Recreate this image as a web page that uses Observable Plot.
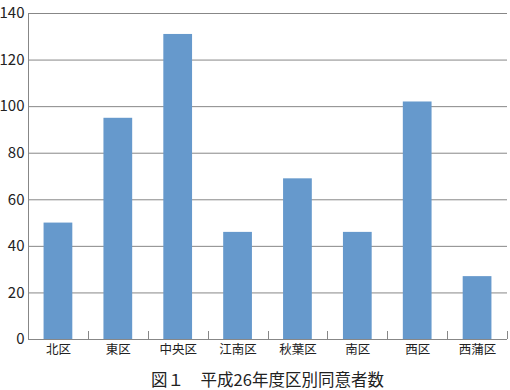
<!DOCTYPE html>
<html><head><meta charset="utf-8">
<script src="https://cdn.jsdelivr.net/npm/d3@7"></script>
<script src="https://cdn.jsdelivr.net/npm/@observablehq/plot@0.6"></script>
<style>
html,body{margin:0;background:#fff;font-family:"Noto Sans CJK JP",sans-serif;overflow:hidden}
#cap{width:510px;height:24px;box-sizing:border-box;padding-left:28px;padding-right:3px;padding-top:4px;text-align:center;font-size:16.5px;line-height:20px;color:#222;white-space:nowrap}
</style></head><body>
<div id="chart"></div>
<div id="cap"></div>
<script>
const categories = ["北区","東区","中央区","江南区","秋葉区","南区","西区","西蒲区"];
const values = [50,95,131,46,69,46,102,27];
const yTicks = [0,20,40,60,80,100,120,140];
const title = "図１　平成26年度区別同意者数";

const data = categories.map((c,i)=>({cat:c, value:values[i]}));
const padInner = 0.52;
const gridColor = "#878787";

const boundaryTicks = (index, scales, values_, dimensions) => {
  const x = scales.x, y = scales.y;
  const step = x(categories[1]) - x(categories[0]);
  const gap = step * padInner;
  const g = d3.create("svg:g").attr("stroke", gridColor).attr("stroke-width", 1);
  const xs = categories.map(c => x(c) - gap/2);
  xs.push(x(categories[categories.length-1]) + step - gap/2);
  const y0 = y(0);
  for (const bx of xs) {
    g.append("line").attr("x1", Math.round(bx)+0.5).attr("x2", Math.round(bx)+0.5)
      .attr("y1", y0).attr("y2", y0 - 8);
  }
  return g.node();
};

const chart = Plot.plot({
  width: 510,
  height: 365,
  marginLeft: 28,
  marginRight: 3,
  marginTop: 13,
  marginBottom: 26,
  style: {fontFamily: '"Noto Sans CJK JP", sans-serif', background: "#fff", color: "#222", display: "block"},
  x: {domain: categories, paddingInner: padInner, paddingOuter: padInner/2, round: false, label: null},
  y: {domain: [0,140], ticks: yTicks, label: null},
  marks: [
    Plot.ruleY(yTicks.filter(d=>d>0), {stroke: gridColor, strokeWidth: 1}),
    Plot.barY(data, {x: "cat", y: "value", fill: "#6699CC"}),
    Plot.ruleY([0], {stroke: gridColor, strokeWidth: 1}),
    Plot.frame({anchor: "left", stroke: gridColor}),
    boundaryTicks,
    Plot.axisY({ticks: yTicks, tickSize: 0, tickPadding: 4, fontSize: 15, label: null}),
    Plot.axisX({tickSize: 0, tickPadding: 6, fontSize: 12.5, label: null})
  ]
});
document.getElementById("chart").appendChild(chart);
document.getElementById("cap").textContent = title;
</script>
</body></html>
